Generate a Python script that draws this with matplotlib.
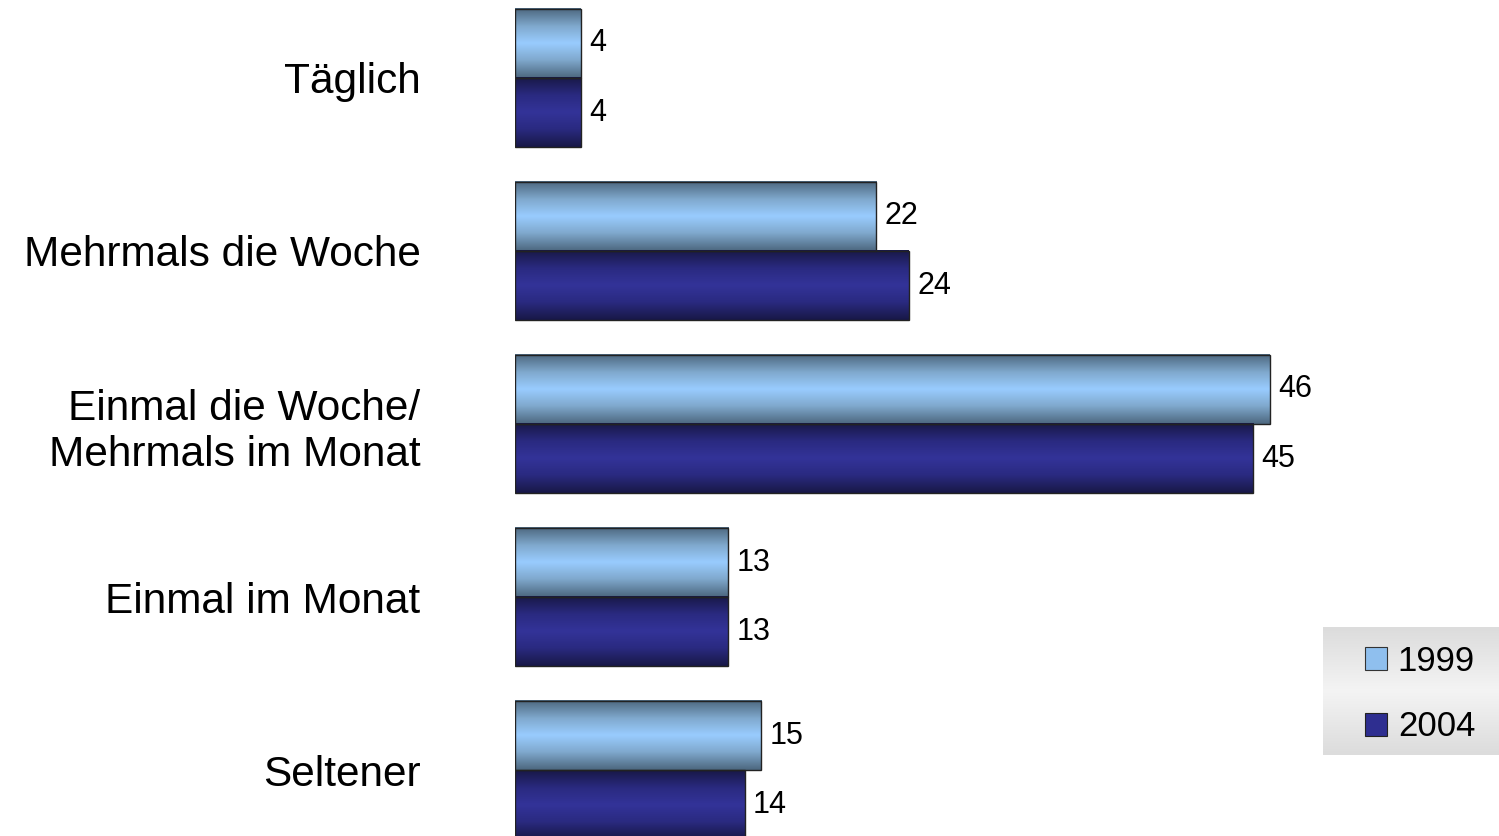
import numpy as np
import matplotlib
matplotlib.use("Agg")
import matplotlib.pyplot as plt
from matplotlib.colors import LinearSegmentedColormap
from matplotlib.patches import Patch

plt.rcParams['font.family'] = ['Liberation Sans', 'DejaVu Sans']

# Data
categories = ["Täglich", "Mehrmals die Woche", "Einmal die Woche/\nMehrmals im Monat",
              "Einmal im Monat", "Seltener"]
years = ["1999", "2004"]
values_1999 = [4, 22, 46, 13, 15]
values_2004 = [4, 24, 45, 13, 14]

# gradient colour maps (edge -> centre -> edge)
light_cmap = LinearSegmentedColormap.from_list(
    "light", ["#4d6880", "#7fa8cc", "#99ccff", "#7fa8cc", "#4d6880"])
dark_cmap = LinearSegmentedColormap.from_list(
    "dark", ["#181848", "#2a2a80", "#333399", "#2a2a80", "#181848"])
gray_cmap = LinearSegmentedColormap.from_list(
    "gray", ["#dcdcdc", "#f4f4f4", "#dcdcdc"])

W, H = 1499, 836
fig = plt.figure(figsize=(W / 100, H / 100), dpi=100)
ax = fig.add_axes([515 / W, 0.0, 787.7 / W, 1.0])

y = np.arange(len(categories))
h = 0.4
grad = np.linspace(0, 1, 64).reshape(-1, 1)

def draw_bars(vals, offset, cmap):
    for yi, v in zip(y, vals):
        y0 = yi + offset - h / 2
        y1 = yi + offset + h / 2
        ax.imshow(grad, cmap=cmap, aspect='auto', extent=(0, v, y1, y0),
                  interpolation='bicubic', zorder=1)
    ax.barh(y + offset, vals, height=h, facecolor='none',
            edgecolor='#222222', linewidth=1.0, zorder=2)
    for yi, v in zip(y, vals):
        ax.text(v + 0.5, yi + offset, str(v), va='center', ha='left',
                fontsize=22, color='black')

draw_bars(values_1999, -h / 2, light_cmap)
draw_bars(values_2004, h / 2, dark_cmap)

ax.set_xlim(0, 48)
ax.set_ylim(4.38, -0.45)
ax.set_yticks(y)
ax.set_yticklabels(categories, fontsize=30.5, ha='right', multialignment='right')
ax.tick_params(axis='y', length=0, pad=68)
ax.set_xticks([])
for s in ax.spines.values():
    s.set_visible(False)

# legend background with soft gray gradient
lax = fig.add_axes([1323 / W, (H - 755) / H, 176 / W, 128 / H])
lax.imshow(grad, cmap=gray_cmap, aspect='auto', interpolation='bicubic')
lax.axis('off')

handles = [Patch(facecolor="#8fbfee", edgecolor="#333333", linewidth=0.8),
           Patch(facecolor="#2e2e90", edgecolor="#222222", linewidth=0.8)]
leg = fig.legend(handles, years, loc='center', bbox_to_anchor=(1420 / W, 1 - 694 / H),
                 fontsize=25, frameon=False, handlelength=0.65,
                 handleheight=0.65, handletextpad=0.3, labelspacing=0.95)

fig.savefig("out.png", dpi=100)
